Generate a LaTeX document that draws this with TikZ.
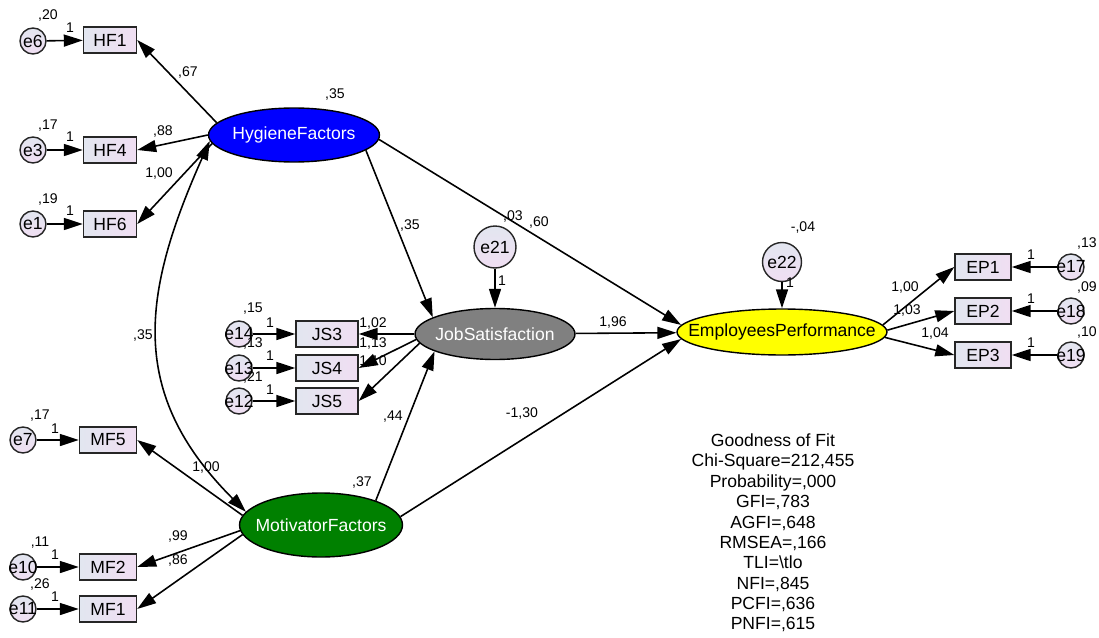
\documentclass[tikz,border=0pt]{standalone}
\usepackage{fontspec}
\setmainfont{Liberation Sans}
\usetikzlibrary{shapes.geometric,arrows.meta,positioning}
\definecolor{boxL}{RGB}{226,230,240}
\definecolor{boxR}{RGB}{240,222,242}
\definecolor{hfblue}{RGB}{0,0,255}
\definecolor{mfgreen}{RGB}{0,128,0}
\definecolor{jsgray}{RGB}{128,128,128}
\definecolor{epyellow}{RGB}{255,255,0}
\newcommand{\ctr}[1]{\makebox[0pt]{#1}}

\begin{document}
\begin{tikzpicture}[x=0.02cm, y=0.02cm,
    box/.style={rectangle, draw=black!85, line width=0.8pt, left color=boxL, right color=boxR,
        minimum width=1.06cm, minimum height=0.52cm, inner sep=0pt, font=\fontsize{10}{12}\selectfont},
    errc/.style={circle, draw=black!85, line width=0.8pt, top color=boxL, bottom color=boxR,
        minimum size=0.52cm, inner sep=0pt, font=\fontsize{10}{12}\selectfont},
    lvar/.style={ellipse, draw=black, line width=0.8pt, inner sep=0pt, font=\fontsize{10}{12}\selectfont},
    arr/.style={-{Triangle[length=3.8mm, width=2.4mm]}, line width=0.9pt},
    cov/.style={{Triangle[length=3.8mm, width=2.4mm]}-{Triangle[length=3.8mm, width=2.4mm]}, line width=0.9pt},
    num/.style={inner sep=0pt, font=\fontsize{8}{9}\selectfont}
]
\useasboundingbox (0,0) rectangle (1099,637);

\node[lvar, fill=hfblue, text=white, minimum width=3.42cm, minimum height=1.08cm] (hf) at (294,502) {\ctr{HygieneFactors}};
\node[lvar, fill=jsgray, text=white, minimum width=3.2cm, minimum height=1.02cm] (js) at (495,303) {\ctr{JobSatisfaction}};
\node[lvar, fill=epyellow, minimum width=4.2cm, minimum height=0.92cm] (ep) at (782,305) {\ctr{EmployeesPerformance}};
\node[lvar, fill=mfgreen, text=white, minimum width=3.26cm, minimum height=1.28cm] (mf) at (321,112) {\ctr{MotivatorFactors}};

\node[box] (hf1) at (110,597) {HF1};
\node[box] (hf4) at (110,487) {HF4};
\node[box] (hf6) at (110,413) {HF6};
\node[errc] (e6) at (33,596) {e6};
\node[errc] (e3) at (33,487) {e3};
\node[errc] (e1) at (33,413) {e1};

\node[box, minimum width=1.24cm] (js3) at (327,303) {JS3};
\node[box, minimum width=1.24cm] (js4) at (327,269) {JS4};
\node[box, minimum width=1.24cm] (js5) at (327,236) {JS5};
\node[errc] (e14) at (239,303) {\ctr{e14}};
\node[errc] (e13) at (239,269) {\ctr{e13}};
\node[errc] (e12) at (239,236) {\ctr{e12}};

\node[box, minimum width=1.14cm] (mf5) at (108,197) {MF5};
\node[box, minimum width=1.14cm] (mf2) at (108,70) {MF2};
\node[box, minimum width=1.14cm] (mf1) at (108,28) {MF1};
\node[errc] (e7) at (23,197) {\ctr{e7}};
\node[errc] (e10) at (23,70) {\ctr{e10}};
\node[errc] (e11) at (23,28) {\ctr{e11}};

\node[box, minimum width=1.12cm] (ep1) at (983,370) {EP1};
\node[box, minimum width=1.12cm] (ep2) at (983,326) {EP2};
\node[box, minimum width=1.12cm] (ep3) at (983,282) {EP3};
\node[errc] (e17) at (1071,370) {\ctr{e17}};
\node[errc] (e18) at (1071,326) {\ctr{e18}};
\node[errc] (e19) at (1071,282) {\ctr{e19}};

\node[errc, minimum size=0.84cm] (e21) at (495,390) {e21};
\node[errc, minimum size=0.78cm] (e22) at (782,375) {e22};

\draw[arr] (e6) -- (hf1);
\draw[arr] (e3) -- (hf4);
\draw[arr] (e1) -- (hf6);
\draw[arr] (e14) -- (js3);
\draw[arr] (e13) -- (js4);
\draw[arr] (e12) -- (js5);
\draw[arr] (e7) -- (mf5);
\draw[arr] (e10) -- (mf2);
\draw[arr] (e11) -- (mf1);
\draw[arr] (e17) -- (ep1);
\draw[arr] (e18) -- (ep2);
\draw[arr] (e19) -- (ep3);
\draw[arr] (e21) -- (js);
\draw[arr] (e22) -- (ep);

\draw[arr] (hf.171) -- (hf1.east);
\draw[arr] (hf.west) -- (hf4.east);
\draw[arr] (hf.186) -- (hf6.east);
\draw[arr] (js.west) -- (js3.east);
\draw[arr] (js.184) -- (js4.east);
\draw[arr] (js.187) -- (js5.east);
\draw[arr] (mf.173) -- (mf5.east);
\draw[arr] (mf.184) -- (mf2.east);
\draw[arr] (mf.187) -- (mf1.east);
\draw[arr] (ep.4) -- (ep1.west);
\draw[arr] (ep.1) -- (ep2.west);
\draw[arr] (ep.-3) -- (ep3.west);

\draw[arr] (hf.-12) -- (js.165);
\draw[arr] (hf.-3) -- (ep.176);
\draw[arr] (js) -- (ep);
\draw[arr] (mf.24) -- (js.196);
\draw[arr] (mf.6) -- (ep.184);
\draw[cov] (hf.184) to[out=246, in=135, looseness=1.15] (mf.170);

\node[num] (v6) at (48,622) {,20};
\node[num] (w6) at (70,609) {1};
\node[num] (v3) at (48,511) {,17};
\node[num] (w3) at (70,500) {1};
\node[num] (v1) at (48,438) {,19};
\node[num] (w1) at (70,426) {1};
\node[num] (l67) at (188,565) {,67};
\node[num] (l88) at (163,506) {,88};
\node[num] (l100h) at (159,464) {1,00};
\node[num] (vhf) at (335,543) {,35};

\node[num] (lhfjs) at (410,412) {,35};
\node[num] (v21) at (513,421) {,03};
\node[num] (lhfep) at (539,415) {,60};
\node[num] (w21) at (502,356) {1};
\node[num] (lcov) at (143,302) {,35};

\node[num] (v14) at (253,328) {,15};
\node[num] (v13) at (253,294) {,13};
\node[num] (v12) at (253,260) {,21};
\node[num] (w14) at (270,314) {1};
\node[num] (w13) at (270,281) {1};
\node[num] (w12) at (270,247) {1};
\node[num] (l102) at (373,314) {1,02};
\node[num] (l113) at (373,294) {1,13};
\node[num] (l110) at (373,276) {1,10};

\node[num] (l44) at (393,220) {,44};
\node[num] (l130) at (522,224) {-1,30};
\node[num] (l196) at (613,315) {1,96};
\node[num] (vmf) at (362,155) {,37};

\node[num] (v7) at (40,221) {,17};
\node[num] (w7) at (55,208) {1};
\node[num] (v10) at (40,94) {,11};
\node[num] (w10) at (55,82) {1};
\node[num] (v11) at (40,53) {,26};
\node[num] (w11) at (55,40) {1};
\node[num] (l100m) at (206,170) {1,00};
\node[num] (l99) at (178,101) {,99};
\node[num] (l86) at (178,77) {,86};

\node[num] (v22) at (803,410) {-,04};
\node[num] (w22) at (790,354) {1};
\node[num] (l100e) at (905,350) {1,00};
\node[num] (l103) at (907,327) {1,03};
\node[num] (l104) at (935,304) {1,04};
\node[num] (v17) at (1087,394) {,13};
\node[num] (v18) at (1087,350) {,09};
\node[num] (v19) at (1087,305) {,10};
\node[num] (w17) at (1031,382) {1};
\node[num] (w18) at (1031,338) {1};
\node[num] (w19) at (1031,294) {1};

\node[align=center, font=\fontsize{10}{11.6}\selectfont] (gof) at (773,104)
    {Goodness of Fit\\Chi-Square=212,455\\Probability=,000\\GFI=,783\\AGFI=,648\\RMSEA=,166\\TLI=\textbackslash tlo\\NFI=,845\\PCFI=,636\\PNFI=,615};
\end{tikzpicture}
\end{document}
